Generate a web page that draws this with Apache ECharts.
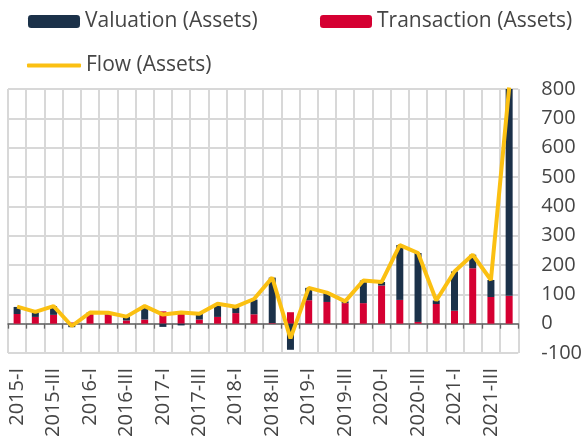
<!DOCTYPE html>
<html>
<head>
<meta charset="utf-8">
<script src="https://cdn.jsdelivr.net/npm/echarts@6/dist/echarts.min.js"></script>
<style>html,body{margin:0;padding:0;background:#fff}#c{width:585px;height:445px}</style>
</head>
<body>
<div id="c"></div>
<script>
const categories = ["2015-I","2015-II","2015-III","2015-IV","2016-I","2016-II","2016-III","2016-IV",
  "2017-I","2017-II","2017-III","2017-IV","2018-I","2018-II","2018-III","2018-IV",
  "2019-I","2019-II","2019-III","2019-IV","2020-I","2020-II","2020-III","2020-IV",
  "2021-I","2021-II","2021-III","2021-IV"];
const transaction = [33,23,30,4,33,31,11,14,42,36,14,23,36,32,2,39,80,74,70,70,130,81,6,67,44,189,91,95];
const valuation = [24,15,30,-12,5,6,13,45,-11,-6,19,42,20,50,155,-89,42,32,6,77,12,187,235,12,134,46,58,710];
const flow = [58,40,60,-8,38,37,24,60,31,38,34,68,58,84,157,-50,122,106,76,147,142,268,241,79,178,235,149,805];
const yTicks = {min: -100, max: 800, interval: 100};

const FONT = "'Open Sans', sans-serif";
const TXT = '#454545';
const NAVY = '#1b3149', RED = '#d50032', YEL = '#fbc012';
const GRIDC = '#d8d8d8';
const chart = echarts.init(document.getElementById('c'), null, {renderer: 'canvas'});
const legendText = {fontFamily: FONT, fontSize: 21, color: TXT};
chart.setOption({
  animation: false,
  backgroundColor: '#fff',
  legend: [
    {data: ['Valuation (Assets)'], left: 28, top: 11, padding: 0, itemWidth: 52, itemHeight: 13, textStyle: legendText, selectedMode: false},
    {data: ['Transaction (Assets)'], left: 320, top: 11, padding: 0, itemWidth: 52, itemHeight: 13, textStyle: legendText, selectedMode: false},
    {data: [{name: 'Flow (Assets)', icon: 'roundRect'}], left: 27, top: 55, padding: 0, itemWidth: 54, itemHeight: 4, textStyle: legendText, selectedMode: false}
  ],
  grid: {left: 8, right: 65, top: 89, bottom: 92, containLabel: false},
  xAxis: [
    {
      type: 'category', data: categories, position: 'bottom',
      axisLine: {show: false, onZero: false}, axisTick: {show: false},
      splitLine: {show: false},
      axisLabel: {rotate: 90, interval: 1, margin: 15, fontFamily: FONT, fontSize: 20, color: TXT}
    },
    {
      type: 'category', data: categories, position: 'bottom',
      axisLine: {show: true, onZero: true, lineStyle: {color: '#666', width: 1.5}},
      axisTick: {show: true, interval: 0, length: 5, lineStyle: {color: '#666', width: 1.3}},
      axisLabel: {show: false, interval: 0},
      splitLine: {show: false}
    },
    {
      type: 'value', min: 0, max: categories.length, interval: 1, position: 'top',
      axisLine: {show: false}, axisTick: {show: false}, axisLabel: {show: false},
      splitLine: {show: true, lineStyle: {color: GRIDC, width: 2}}
    }
  ],
  yAxis: {
    type: 'value', position: 'right', min: yTicks.min, max: yTicks.max, interval: yTicks.interval,
    axisLine: {show: false}, axisTick: {show: false},
    splitLine: {lineStyle: {color: GRIDC, width: 2}},
    axisLabel: {margin: 23, fontFamily: FONT, fontSize: 20, color: TXT}
  },
  series: [
    {name: 'Transaction (Assets)', type: 'bar', stack: 'a', data: transaction, barWidth: 7, itemStyle: {color: RED}, xAxisIndex: 0},
    {name: 'Valuation (Assets)', type: 'bar', stack: 'a', data: valuation, barWidth: 7, itemStyle: {color: NAVY}, xAxisIndex: 0},
    {name: 'Flow (Assets)', type: 'line', data: flow, symbol: 'none', z: 5, xAxisIndex: 0,
     lineStyle: {color: YEL, width: 4}, itemStyle: {color: YEL}}
  ]
});
</script>
</body>
</html>
